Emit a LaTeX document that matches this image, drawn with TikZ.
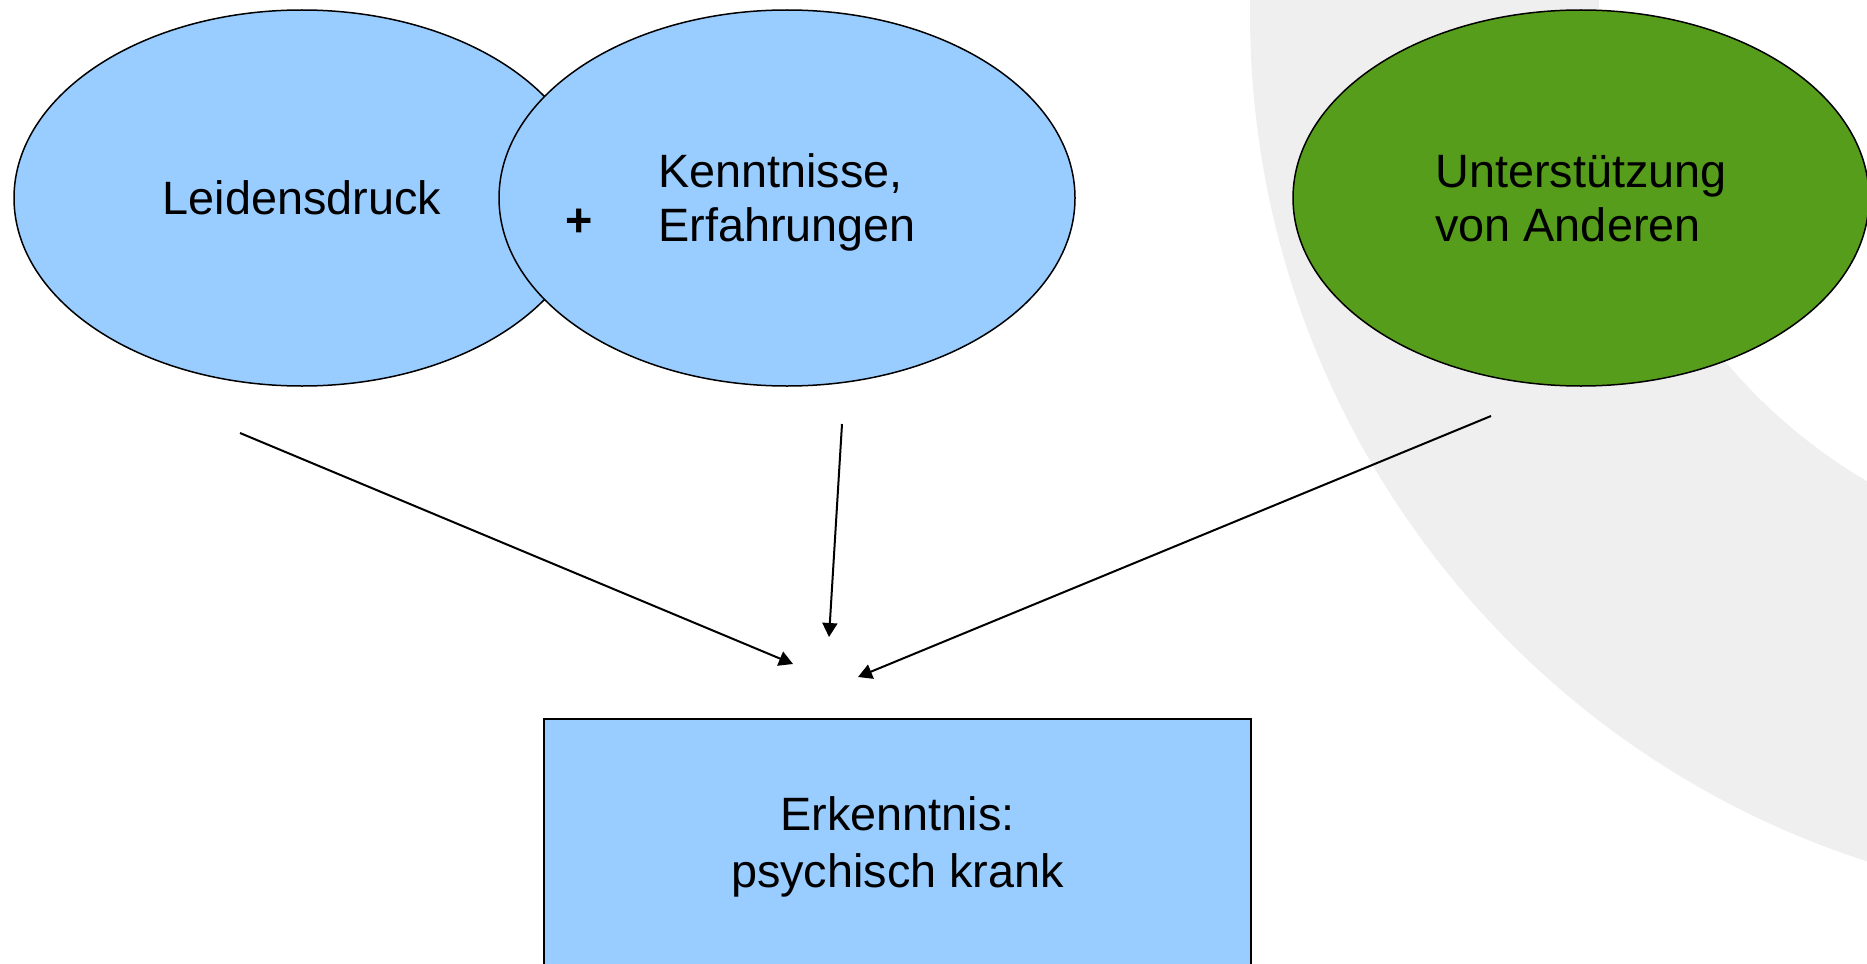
\documentclass[tikz,border=0pt]{standalone}
\usepackage{fontspec}
\setmainfont{Liberation Sans}
\usetikzlibrary{shapes.geometric,arrows.meta}
\definecolor{lightblue}{HTML}{99CCFF}
\definecolor{leafgreen}{HTML}{579D1C}
\definecolor{ringgrey}{HTML}{EFEFEF}
\begin{document}
\begin{tikzpicture}[x=0.5pt,y=-0.5pt,
    bubble/.style={ellipse,draw,line width=0.75pt,minimum width=288pt,minimum height=188pt,
      align=left,inner sep=0pt,font=\fontsize{23.4}{27}\selectfont},
    result/.style={rectangle,draw,line width=0.75pt,fill=lightblue,minimum width=353.5pt,
      minimum height=128pt,align=center,font=\fontsize{23.4}{28.5}\selectfont},
    link/.style={line width=1pt,-{Triangle[length=7pt,width=7.5pt]}}]
  \path[use as bounding box,clip] (0,0) rectangle (1867,963);
  \fill[ringgrey,even odd rule] (2140,14) circle[radius=890] (2140,14) circle[radius=541];
  \node[bubble,fill=lightblue] (leid) at (302,198) {Leidensdruck};
  \node[bubble,fill=lightblue,text depth=0pt] (kennt) at (787,198) {Kenntnisse,\\Erfahrungen};
  \node[bubble,fill=leafgreen,text depth=0pt] (unter) at (1581,198) {Unterstützung\\von Anderen};
  \node[font=\fontsize{23.4}{27}\selectfont\bfseries] (plus) at (579,223) {+};
  \node[result] (erk) at (897.5,847) {Erkenntnis:\\psychisch krank};
  \coordinate (leid-out) at (240,433);
  \coordinate (leid-in) at (793,664);
  \coordinate (kennt-out) at (842,424);
  \coordinate (kennt-in) at (829,637);
  \coordinate (unter-out) at (1491,416);
  \coordinate (unter-in) at (858,677);
  \begin{scope}[link]
    \draw (leid-out) to (leid-in);
    \draw (kennt-out) to (kennt-in);
    \draw (unter-out) to (unter-in);
  \end{scope}
\end{tikzpicture}
\end{document}
